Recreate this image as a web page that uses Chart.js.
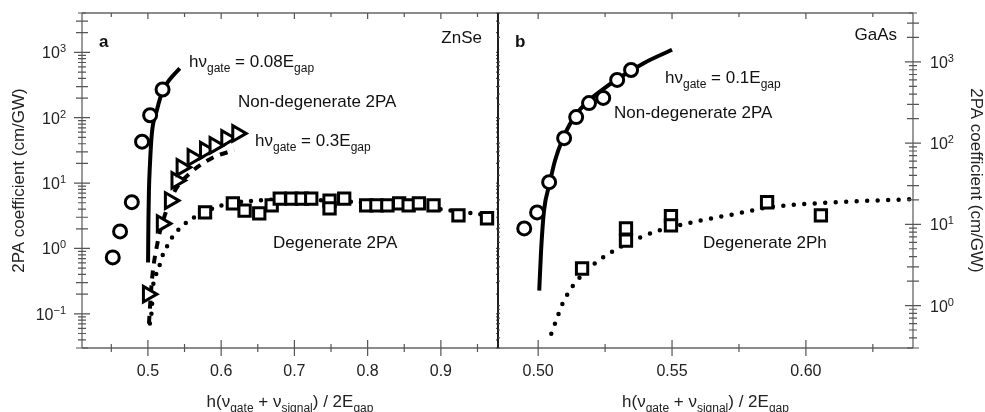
<!DOCTYPE html>
<html lang="en">
<head>
<meta charset="UTF-8">
<title>2PA coefficient - ZnSe / GaAs</title>
<script src="https://cdn.jsdelivr.net/npm/chart.js@4"></script>
<style>
  body { margin: 0; background: #fff; }
  #wrap { position: relative; width: 985px; height: 412px; }
  #wrap canvas { position: absolute; left: 0; top: 0; }
</style>
</head>
<body>
<div id="wrap">
  <canvas id="znse" width="985" height="412"></canvas>
  <canvas id="gaas" width="985" height="412"></canvas>
</div>
<script>
// ---- panel a : ZnSe ----
var znseNd08X = [0.452, 0.462, 0.478, 0.492, 0.503, 0.520];
var znseNd08Y = [0.73, 1.82, 5.1, 43, 109, 270];
var znseFit08X = [0.5002, 0.5007, 0.5014, 0.5027, 0.5054, 0.5122, 0.5204, 0.530, 0.5435];
var znseFit08Y = [0.61, 2.7, 7.7, 18.7, 57.6, 130, 263, 388, 570];

var znseNd3X = [0.500, 0.519, 0.530, 0.539, 0.546, 0.561, 0.578, 0.591, 0.607, 0.622];
var znseNd3Y = [0.2, 2.4, 5.4, 11, 17.4, 24.7, 31.8, 37.8, 48.3, 57.6];
var znseFit3X = [0.5014, 0.5054, 0.5136, 0.523, 0.537, 0.557, 0.587, 0.618];
var znseFit3Y = [0.071, 0.32, 1.3, 3.2, 7.7, 14, 24, 32];

var znseDegX = [0.578, 0.616, 0.632, 0.652, 0.669, 0.680, 0.696, 0.710, 0.723, 0.748, 0.748,
                0.768, 0.798, 0.812, 0.827, 0.843, 0.856, 0.870, 0.890, 0.924, 0.963];
var znseDegY = [3.56, 4.9, 3.8, 3.45, 4.55, 5.8, 5.8, 5.8, 5.8, 5.4, 4.1,
                5.8, 4.55, 4.55, 4.55, 4.9, 4.55, 4.9, 4.55, 3.2, 2.9];
var znseDegFitX = [0.5027, 0.5054, 0.5068, 0.5095, 0.515, 0.519, 0.526, 0.534, 0.548, 0.561,
                   0.602, 0.646, 0.70, 0.76, 0.82, 0.88, 0.94, 0.978];
var znseDegFitY = [0.071, 0.12, 0.245, 0.35, 0.51, 0.73, 1.07, 1.53, 2.25, 2.9,
                   4.6, 5.4, 5.6, 5.3, 4.8, 4.2, 3.5, 3.1];

var znseXTicks = [0.5, 0.6, 0.7, 0.8, 0.9];
var znseXLabels = ['0.5', '0.6', '0.7', '0.8', '0.9'];
var znseXMinor = [0.45, 0.55, 0.65, 0.75, 0.85, 0.95];
var znseYDecades = [-1, 0, 1, 2, 3];

// ---- panel b : GaAs ----
var gaasNdX = [0.4948, 0.4996, 0.5041, 0.5097, 0.5142, 0.519, 0.5243, 0.5295, 0.5347];
var gaasNdY = [8.9, 14, 33, 115, 209, 311, 360, 600, 795];
var gaasFitX = [0.5004, 0.5011, 0.5022, 0.5041, 0.5063, 0.509, 0.5127, 0.5172, 0.5228, 0.5302, 0.5396, 0.55];
var gaasFitY = [1.53, 4.8, 14.9, 30, 61, 109, 192, 295, 425, 634, 972, 1410];

var gaasDegX = [0.5164, 0.5328, 0.5328, 0.5496, 0.5496, 0.5855, 0.6056];
var gaasDegY = [2.86, 8.9, 6.3, 12.6, 9.7, 18.7, 12.9];
var gaasDegFitX = [0.5049, 0.5063, 0.5078, 0.5093, 0.5116, 0.5142, 0.5216, 0.5295, 0.5373, 0.5451,
                   0.5526, 0.5608, 0.5731, 0.5862, 0.6112, 0.64];
var gaasDegFitY = [0.45, 0.60, 0.82, 1.09, 1.49, 1.98, 3.4, 5.0, 6.7, 8.4,
                   9.7, 11.2, 13.3, 16.2, 18.7, 20.4];

var gaasXTicks = [0.50, 0.55, 0.60];
var gaasXLabels = ['0.50', '0.55', '0.60'];
var gaasXMinor = [0.525, 0.575, 0.625];
var gaasYDecades = [0, 1, 2, 3];

var FONT = '"Liberation Sans", Arial, Helvetica, sans-serif';

function pts(xs, ys) {
  return xs.map(function (x, i) { return { x: x, y: ys[i] }; });
}

// draw a run of text pieces, some of them sub/superscript or bold
function richText(ctx, parts, x, y, size, align) {
  function setFont(kind) {
    var s = (kind === 'sub' || kind === 'sup') ? Math.round(size * 0.7) : size;
    ctx.font = (kind === 'b' ? 'bold ' : '') + s + 'px ' + FONT;
  }
  var w = 0;
  parts.forEach(function (p) { setFont(p[1]); w += ctx.measureText(p[0]).width; });
  var cx = align === 'center' ? x - w / 2 : align === 'right' ? x - w : x;
  ctx.textAlign = 'left';
  ctx.textBaseline = 'alphabetic';
  parts.forEach(function (p) {
    setFont(p[1]);
    var dy = p[1] === 'sub' ? 5 : p[1] === 'sup' ? -6 : 0;
    ctx.fillText(p[0], cx, y + dy);
    cx += ctx.measureText(p[0]).width;
  });
}

var xTitle = [['h(ν', ''], ['gate', 'sub'], [' + ν', ''], ['signal', 'sub'], [') / 2E', ''], ['gap', 'sub']];

var framePlugin = {
  id: 'frame',
  afterDraw: function (chart, args, o) {
    var ctx = chart.ctx, a = chart.chartArea;
    var xs = chart.scales.x, ys = chart.scales.y;
    var left = o.side === 'left';
    var axisX = left ? a.left : a.right;
    var otherX = left ? a.right : a.left;
    ctx.save();
    ctx.lineCap = 'butt';

    // frame
    ctx.strokeStyle = '#666';
    ctx.lineWidth = 1.3;
    ctx.beginPath();
    ctx.moveTo(a.left, a.top); ctx.lineTo(a.right, a.top);
    ctx.moveTo(a.left, a.bottom); ctx.lineTo(a.right, a.bottom);
    ctx.moveTo(axisX, a.top); ctx.lineTo(axisX, a.bottom);
    ctx.stroke();
    ctx.strokeStyle = '#111';
    ctx.lineWidth = 1.5;
    ctx.beginPath();
    ctx.moveTo(otherX, a.top); ctx.lineTo(otherX, a.bottom);
    ctx.stroke();

    // x ticks, bottom and top
    ctx.strokeStyle = '#555';
    ctx.lineWidth = 1.2;
    ctx.beginPath();
    o.xMajor.forEach(function (v) {
      var p = xs.getPixelForValue(v);
      ctx.moveTo(p, a.bottom - 8); ctx.lineTo(p, a.bottom + 8);
      ctx.moveTo(p, a.top); ctx.lineTo(p, a.top + 6);
    });
    o.xMinor.forEach(function (v) {
      var p = xs.getPixelForValue(v);
      ctx.moveTo(p, a.bottom - 4); ctx.lineTo(p, a.bottom + 4);
      ctx.moveTo(p, a.top); ctx.lineTo(p, a.top + 4);
    });

    // y ticks (log)
    var lo = Math.floor(Math.log10(ys.min)), hi = Math.ceil(Math.log10(ys.max));
    var dir = left ? 1 : -1;
    for (var e = lo; e <= hi; e++) {
      for (var m = 1; m <= 9; m++) {
        var v = m * Math.pow(10, e);
        if (v < ys.min || v > ys.max) continue;
        var py = ys.getPixelForValue(v);
        var len = m === 1 ? 8 : (m <= 3 ? 6 : 4);
        ctx.moveTo(axisX - len, py); ctx.lineTo(axisX + len, py);
        ctx.moveTo(otherX, py); ctx.lineTo(otherX - dir * 2, py);
      }
    }
    ctx.stroke();

    // y tick labels 10^n
    ctx.fillStyle = '#222';
    o.decades.forEach(function (d) {
      var py = ys.getPixelForValue(Math.pow(10, d));
      var exp = d < 0 ? '\u2212' + (-d) : String(d);
      var parts = [['10', ''], [exp, 'sup']];
      if (left) richText(ctx, parts, axisX - 16, py + 6, 16, 'right');
      else richText(ctx, parts, axisX + 17, py + 6, 16, 'left');
    });

    // axis titles
    richText(ctx, xTitle, (a.left + a.right) / 2, 407, 17, 'center');
    ctx.save();
    ctx.font = '17px ' + FONT;
    ctx.textAlign = 'center';
    ctx.textBaseline = 'middle';
    if (left) {
      ctx.translate(19, (a.top + a.bottom) / 2);
      ctx.rotate(-Math.PI / 2);
    } else {
      ctx.translate(976, (a.top + a.bottom) / 2);
      ctx.rotate(Math.PI / 2);
    }
    ctx.fillText('2PA coefficient (cm/GW)', 0, 0);
    ctx.restore();

    // annotations
    ctx.fillStyle = '#111';
    o.notes.forEach(function (n) {
      richText(ctx, n.parts, n.x, n.y, 17, n.align || 'left');
    });
    ctx.restore();
  }
};

function markers(data, style, r) {
  return {
    data: data, order: 0, showLine: false,
    pointStyle: style, pointRadius: r, pointRotation: style === 'triangle' ? 90 : 0,
    pointBorderWidth: 3, pointBorderColor: '#000', pointBackgroundColor: '#fff'
  };
}
function curve(data, dash, width, cap) {
  return {
    data: data, order: 1, showLine: true, pointRadius: 0,
    borderColor: '#000', borderWidth: width, borderDash: dash, borderCapStyle: cap,
    cubicInterpolationMode: 'monotone', fill: false
  };
}

function makeChart(id, cfg) {
  return new Chart(document.getElementById(id), {
    type: 'scatter',
    data: { datasets: cfg.datasets },
    options: {
      responsive: false,
      animation: false,
      events: [],
      layout: { padding: cfg.padding },
      plugins: { legend: { display: false }, tooltip: { enabled: false }, frame: cfg.frame },
      scales: {
        x: {
          type: 'linear', min: cfg.xMin, max: cfg.xMax,
          grid: { display: false, drawTicks: false },
          border: { display: false },
          afterBuildTicks: function (s) { s.ticks = cfg.xTicks.map(function (v) { return { value: v }; }); },
          afterFit: function (s) { s.height = 64; },
          ticks: {
            autoSkip: false, maxRotation: 0, padding: 14, color: '#222',
            font: { size: 16, family: FONT },
            callback: function (v, i) { return cfg.xLabels[i]; }
          }
        },
        y: {
          type: 'logarithmic', position: cfg.yPos, min: cfg.yMin, max: cfg.yMax,
          grid: { display: false, drawTicks: false },
          border: { display: false },
          ticks: { display: false },
          afterFit: function (s) { s.width = cfg.yWidth; }
        }
      }
    },
    plugins: [framePlugin]
  });
}

makeChart('znse', {
  xMin: 0.41, xMax: 0.978, yMin: 0.03, yMax: 4000, yPos: 'left', yWidth: 82,
  padding: { left: 0, right: 487, top: 13, bottom: 0 },
  xTicks: znseXTicks, xLabels: znseXLabels,
  datasets: [
    curve(pts(znseFit08X, znseFit08Y), [], 4, 'butt'),
    curve(pts(znseFit3X, znseFit3Y), [8, 7], 4, 'butt'),
    curve(pts(znseDegFitX, znseDegFitY), [0, 10], 4.5, 'round'),
    markers(pts(znseNd08X, znseNd08Y), 'circle', 6.5),
    markers(pts(znseNd3X, znseNd3Y), 'triangle', 9),
    markers(pts(znseDegX, znseDegY), 'rect', 8)
  ],
  frame: {
    side: 'left', xMajor: znseXTicks, xMinor: znseXMinor, decades: znseYDecades,
    notes: [
      { parts: [['a', 'b']], x: 99, y: 47 },
      { parts: [['hν', ''], ['gate', 'sub'], [' = 0.08E', ''], ['gap', 'sub']], x: 189, y: 67 },
      { parts: [['Non-degenerate 2PA', '']], x: 238, y: 107 },
      { parts: [['hν', ''], ['gate', 'sub'], [' = 0.3E', ''], ['gap', 'sub']], x: 255, y: 146 },
      { parts: [['ZnSe', '']], x: 482, y: 43, align: 'right' },
      { parts: [['Degenerate 2PA', '']], x: 273, y: 248 }
    ]
  }
});

makeChart('gaas', {
  xMin: 0.485, xMax: 0.64, yMin: 0.3, yMax: 4000, yPos: 'right', yWidth: 72,
  padding: { left: 498, right: 0, top: 13, bottom: 0 },
  xTicks: gaasXTicks, xLabels: gaasXLabels,
  datasets: [
    curve(pts(gaasFitX, gaasFitY), [], 4, 'butt'),
    curve(pts(gaasDegFitX, gaasDegFitY), [0, 10.5], 4.5, 'round'),
    markers(pts(gaasNdX, gaasNdY), 'circle', 6.5),
    markers(pts(gaasDegX, gaasDegY), 'rect', 8)
  ],
  frame: {
    side: 'right', xMajor: gaasXTicks, xMinor: gaasXMinor, decades: gaasYDecades,
    notes: [
      { parts: [['b', 'b']], x: 515, y: 47 },
      { parts: [['hν', ''], ['gate', 'sub'], [' = 0.1E', ''], ['gap', 'sub']], x: 665, y: 83 },
      { parts: [['Non-degenerate 2PA', '']], x: 614, y: 118 },
      { parts: [['GaAs', '']], x: 897, y: 40, align: 'right' },
      { parts: [['Degenerate 2Ph', '']], x: 703, y: 248 }
    ]
  }
});
</script>
</body>
</html>
